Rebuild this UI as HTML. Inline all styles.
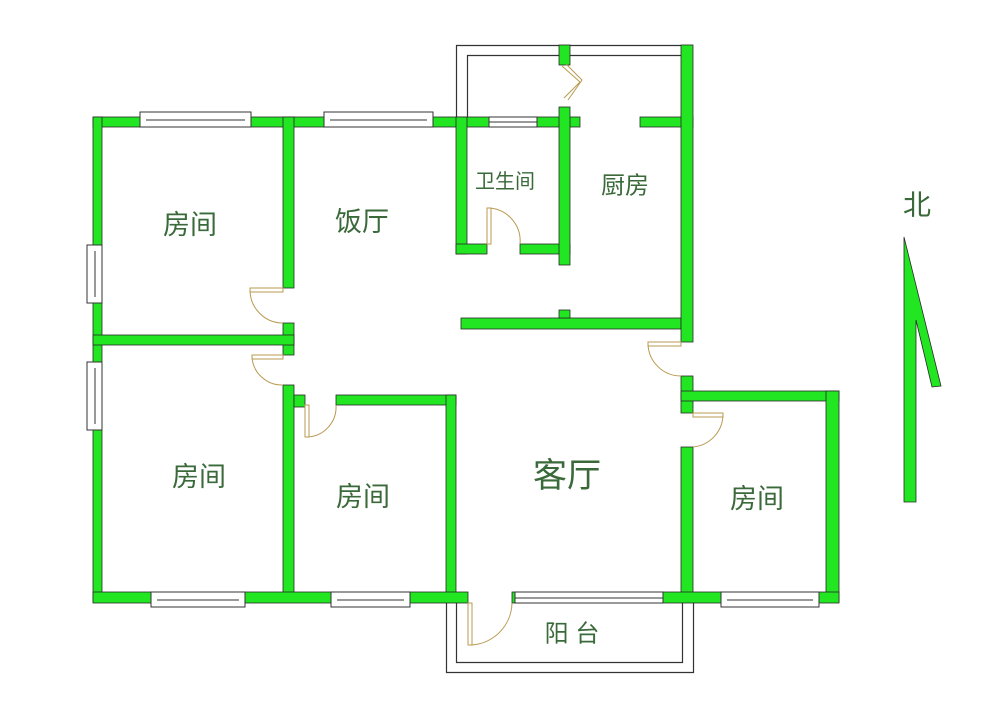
<!DOCTYPE html>
<html><head><meta charset="utf-8"><style>
html,body{margin:0;padding:0;background:#fff;}
svg{display:block}
text{font-family:"Liberation Sans","Noto Sans CJK SC",sans-serif;fill:#3a6a3a;text-anchor:middle;dominant-baseline:central}
</style></head><body>
<svg width="1000" height="718" viewBox="0 0 1000 718" xmlns="http://www.w3.org/2000/svg">
<rect width="1000" height="718" fill="#fff"/>
<!-- balcony outlines -->
<g fill="none" stroke="#333" stroke-width="1.2">
<path d="M456.5 117 V45.5 H693"/>
<path d="M467.5 117 V55.5 H681"/>
<path d="M446.5 603 V672.5 H693.5 V603"/>
<path d="M456.5 603 V662.5 H682.5 V603"/>
</g>
<g fill="#22e622" stroke="#2a2a2a" stroke-width="0.8">
<rect x="93" y="117" width="487" height="10"/>
<rect x="640" y="117" width="53" height="10"/>
<rect x="93" y="117" width="9" height="485"/>
<rect x="283" y="117" width="11" height="171"/>
<rect x="283" y="323" width="11" height="32"/>
<rect x="283" y="385" width="11" height="217"/>
<rect x="93" y="335" width="201" height="10"/>
<rect x="294" y="395" width="11" height="12"/>
<rect x="336" y="395" width="120" height="10"/>
<rect x="446" y="395" width="10" height="207"/>
<rect x="456" y="117" width="11" height="137"/>
<rect x="456" y="244" width="31" height="10"/>
<rect x="520" y="244" width="50" height="10"/>
<rect x="559" y="107" width="11" height="158"/>
<rect x="559" y="45" width="11" height="20"/>
<rect x="461" y="318" width="220" height="11"/>
<rect x="559" y="310" width="11" height="8"/>
<rect x="681" y="45" width="12" height="297"/>
<rect x="681" y="376" width="12" height="37"/>
<rect x="681" y="447" width="12" height="155"/>
<rect x="681" y="391" width="158" height="10"/>
<rect x="826" y="391" width="13" height="211"/>
<rect x="93" y="592" width="375" height="11"/>
<rect x="512" y="592" width="327" height="11"/>
</g>
<!-- windows -->
<g fill="#fff" stroke="#333" stroke-width="1">
<rect x="140" y="112" width="111" height="15"/>
<rect x="324" y="112" width="109" height="15"/>
<rect x="489" y="117" width="48" height="10"/>
<rect x="87" y="245" width="15" height="58"/>
<rect x="87" y="362" width="15" height="68"/>
<rect x="151" y="592" width="94" height="15"/>
<rect x="331" y="592" width="79" height="15"/>
<rect x="515" y="592" width="148" height="11"/>
<rect x="721" y="592" width="98" height="15"/>
</g>
<g stroke="#333" stroke-width="1">
<line x1="146" y1="120" x2="245" y2="120"/><line x1="330" y1="120" x2="427" y2="120"/>
<line x1="95" y1="251" x2="95" y2="297"/><line x1="95" y1="368" x2="95" y2="424"/>
<line x1="157" y1="600" x2="239" y2="600"/><line x1="337" y1="600" x2="404" y2="600"/>
<line x1="515" y1="598" x2="663" y2="598"/><line x1="727" y1="600" x2="813" y2="600"/>
<line x1="489" y1="122" x2="537" y2="122"/>
</g>
<!-- doors -->
<g fill="none" stroke="#b89a50" stroke-width="1">
<rect x="250" y="288" width="33" height="4"/><path d="M250 290 A33 33 0 0 0 283 323"/>
<rect x="252" y="355" width="31" height="4"/><path d="M252 357 A30 30 0 0 0 283 385"/>
<rect x="305" y="405" width="4" height="32"/><path d="M307 437 A30 30 0 0 0 336 405"/>
<rect x="487" y="208" width="4" height="36"/><path d="M489 208 A33 33 0 0 1 520 244"/>
<rect x="648" y="342" width="33" height="4"/><path d="M648 344 A33 33 0 0 0 681 376"/>
<rect x="693" y="413" width="30" height="4"/><path d="M723 415 A33 33 0 0 1 693 447"/>
<rect x="468" y="603" width="4" height="42"/><path d="M470 645 A43 43 0 0 0 512 603"/>
<path d="M562 66 L580 82 L564 98 M566 64 L582 80 L568 100"/>
</g>
<!-- north arrow -->
<polygon points="904,237 941,386 932,387 916,320 916,502 904,502" fill="#22e622" stroke="#2a2a2a" stroke-width="0.8"/>
<text x="917" y="205" font-size="28">北</text>
<text x="190" y="225" font-size="27">房间</text>
<text x="362" y="222" font-size="27">饭厅</text>
<text x="505" y="182" font-size="20">卫生间</text>
<text x="625" y="186" font-size="24">厨房</text>
<text x="199" y="477" font-size="27">房间</text>
<text x="363" y="497" font-size="27">房间</text>
<text x="567" y="476" font-size="34">客厅</text>
<text x="757" y="499" font-size="27">房间</text>
<text x="572" y="634" font-size="24">阳  台</text>
</svg>
</body></html>
